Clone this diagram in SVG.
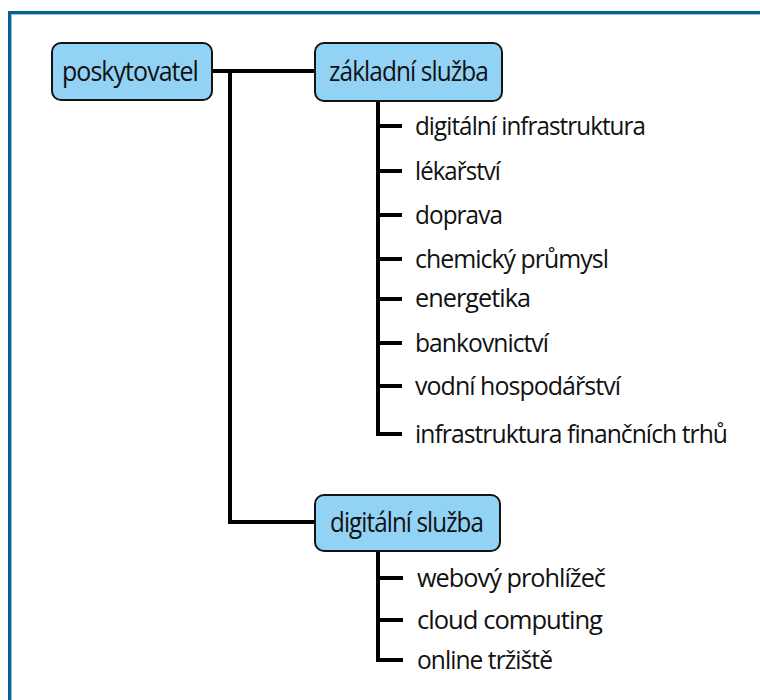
<svg xmlns="http://www.w3.org/2000/svg" width="760" height="700" viewBox="0 0 760 700">
<style>
.box{fill:#92d3f5;stroke:#141414;stroke-width:2}
.lbl{font-family:"Open Sans","Liberation Sans",sans-serif;font-size:27px;fill:#111;letter-spacing:-1px}
.item{font-family:"Open Sans","Liberation Sans",sans-serif;font-size:26px;fill:#111;letter-spacing:-1px}
.ln{fill:none;stroke:#000;stroke-width:4}
</style>
<rect width="760" height="700" fill="#fff"/>
<path d="M9.5,700 V12.5 H760" fill="none" stroke="#0d5f92" stroke-width="3"/>
<path d="M11.5,700 V14.5 H760" fill="none" stroke="#8fc3e0" stroke-width="1"/>
<g id="connectors">
<path class="ln" d="M212,71 H315"/>
<path class="ln" d="M230,71 V522 H315"/>
<path class="ln" d="M378,101 V434 H402"/>
<path class="ln" d="M378,126 H402 M378,171 H402 M378,215 H402 M378,259 H402 M378,299 H402 M378,343 H402 M378,386 H402"/>
<path class="ln" d="M378,551 V660 H403"/>
<path class="ln" d="M378,578 H403 M378,620 H403"/>
</g>
<g id="poskytovatel">
<rect class="box" x="52" y="43" width="160" height="57" rx="9"/>
<text class="lbl" x="62" y="81" textLength="136" lengthAdjust="spacingAndGlyphs">poskytovatel</text>
</g>
<g id="zakladni-sluzba">
<rect class="box" x="315" y="43" width="187" height="58" rx="9"/>
<text class="lbl" x="329" y="81" textLength="159" lengthAdjust="spacingAndGlyphs">základní služba</text>
</g>
<g id="digitalni-sluzba">
<rect class="box" x="315" y="495" width="185" height="56" rx="9"/>
<text class="lbl" x="330" y="532" textLength="153" lengthAdjust="spacingAndGlyphs">digitální služba</text>
</g>
<g id="items-zakladni">
<text id="i1" class="item" x="415" y="135" textLength="230" lengthAdjust="spacingAndGlyphs">digitální infrastruktura</text>
<text id="i2" class="item" x="415" y="180" textLength="85" lengthAdjust="spacingAndGlyphs">lékařství</text>
<text id="i3" class="item" x="415" y="224" textLength="87" lengthAdjust="spacingAndGlyphs">doprava</text>
<text id="i4" class="item" x="415" y="268" textLength="193" lengthAdjust="spacingAndGlyphs">chemický průmysl</text>
<text id="i5" class="item" x="415" y="307" textLength="115" lengthAdjust="spacingAndGlyphs">energetika</text>
<text id="i6" class="item" x="415" y="352" textLength="133" lengthAdjust="spacingAndGlyphs">bankovnictví</text>
<text id="i7" class="item" x="415" y="395" textLength="205" lengthAdjust="spacingAndGlyphs">vodní hospodářství</text>
<text id="i8" class="item" x="415" y="443" textLength="312" lengthAdjust="spacingAndGlyphs">infrastruktura finančních trhů</text>
</g>
<g id="items-digitalni">
<text id="d1" class="item" x="417" y="587" textLength="188" lengthAdjust="spacingAndGlyphs">webový prohlížeč</text>
<text id="d2" class="item" x="417" y="629" textLength="185" lengthAdjust="spacingAndGlyphs">cloud computing</text>
<text id="d3" class="item" x="417" y="669" textLength="135" lengthAdjust="spacingAndGlyphs">online tržiště</text>
</g>
</svg>
